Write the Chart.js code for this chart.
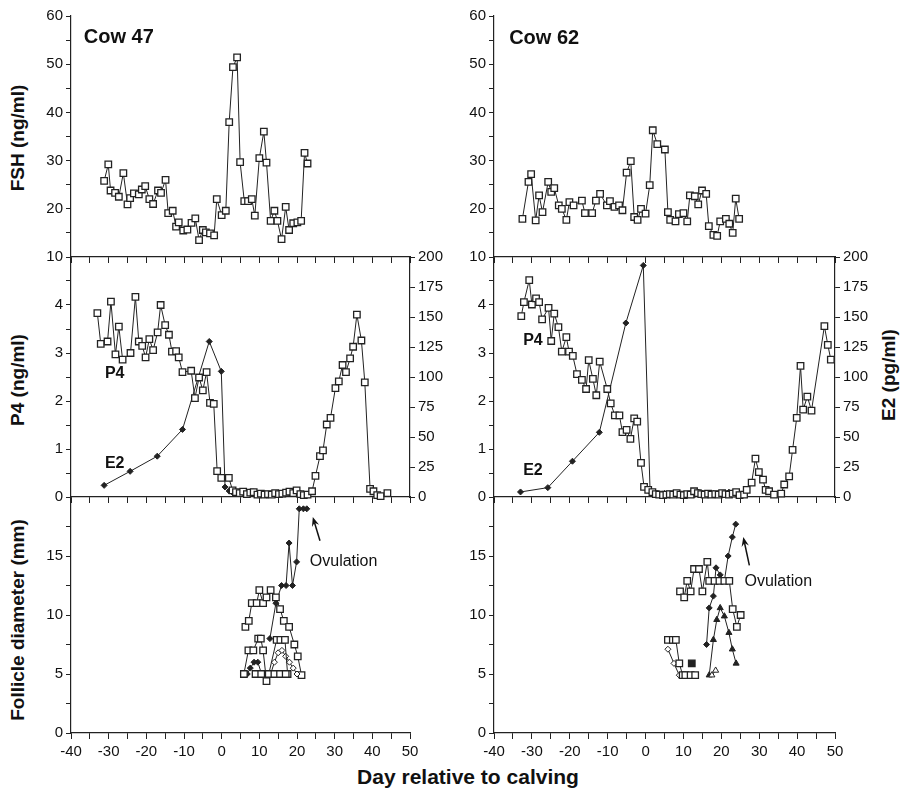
<!DOCTYPE html>
<html>
<head>
<meta charset="utf-8">
<script src="https://cdn.jsdelivr.net/npm/chart.js@4.4.1/dist/chart.umd.min.js"></script>
<style>
body{margin:0;background:#fff;width:902px;height:792px;position:relative;overflow:hidden;font-family:'Liberation Sans',Arial,sans-serif;color:#111}
.p{position:absolute}
.t{position:absolute;font-weight:bold;font-size:19px;white-space:nowrap;transform:translate(-50%,-50%) rotate(-90deg)}
.h{position:absolute;font-weight:bold;font-size:21px;white-space:nowrap;transform:translate(-50%,-50%)}
</style>
</head>
<body>
<div class="t" style="left:18px;top:138px">FSH (ng/ml)</div>
<div class="t" style="left:18px;top:380px">P4 (ng/ml)</div>
<div class="t" style="left:18px;top:620px">Follicle diameter (mm)</div>
<div class="t" style="left:889px;top:375px">E2 (pg/ml)</div>
<div class="h" style="left:468px;top:777px">Day relative to calving</div>
<script>
// FSH, ng/ml
const fshCow47Day = [-31.2,-30.1,-29.5,-28.3,-27.3,-26.1,-25,-24.3,-23.3,-22,-21.2,-20.3,-19.2,-18.2,-16.9,-16.1,-14.9,-14.2,-13,-12.1,-11.4,-10.2,-9.1,-8,-7,-6,-5,-4.2,-3.1,-2,-1.3,0,1.1,2,3,4.1,4.9,6,7,8,8.8,10,11.2,11.9,13,14,14.8,15.9,17,17.9,19,20.1,21.1,22,22.8];
const fshCow47 = [25.8,29.2,23.8,23.3,22.5,27.4,20.9,22.2,23.2,23,24,24.7,22,21,23.8,23.3,26,19.1,19.6,16.3,17.2,15.5,15.7,17.1,18,13.5,15.6,15.1,14.9,14.5,22,18.7,19.6,38,49.4,51.4,29.7,21.6,21.6,22,18.6,30.5,36,29.6,17.5,19.6,17.5,13.7,20.4,15.6,17,17.2,17.5,31.6,29.4];
const fshCow62Day = [-32.5,-30.9,-30.2,-29,-28.1,-27.2,-25.7,-24.9,-24.1,-22.9,-22.1,-20.9,-20.1,-19,-16.8,-16,-14.1,-13.1,-12,-10.2,-9.4,-8.2,-7,-6.1,-5,-3.9,-3,-2.1,-1.2,0,1.1,1.9,3.1,5.1,5.9,6.5,7.9,8.8,10,11,11.7,13,13.9,14.9,16,16.7,17.9,18.9,19.7,21.2,22.1,23,23.8,24.7];
const fshCow62 = [17.9,25.6,27.2,17.6,22.8,19.3,25.6,23.5,24.3,20.7,20,17.7,21.4,20.7,21.7,19.1,19.1,21.7,23.1,20.7,21.6,20.4,20.7,19.7,27.5,29.9,18.3,17.7,20,19,24.9,36.3,33.4,32.3,19.3,17.7,17.4,18.9,19.1,17.4,22.8,22.6,20.9,23.8,23.1,16.4,14.6,14.4,17.4,17.9,16.9,15,22.1,17.9];

// P4 (ng/ml) and E2 (pg/ml)
const p4Cow47Day = [-33,-32.1,-30.3,-29.4,-28.2,-27.3,-26.3,-24.2,-22.9,-22,-21.1,-20.2,-19.2,-18.2,-17,-16.2,-15,-14,-13.2,-12.1,-11.4,-10.4,-8.1,-7.1,-6,-5,-4,-3.1,-2.1,-1.2,-0.1,1.9,2.9,3.8,4.8,5.7,6.7,7.6,8.5,9.5,10.4,11.4,12.3,13.3,14.2,15.2,16.1,17.1,18,19,19.9,20.9,21.8,22.8,24,24.9,26.1,26.9,27.9,28.9,30.2,31.1,32.1,33,34.1,34.9,35.9,37.1,38,39.4,40.3,41.3,42.2,44];
const p4Cow47 = [3.83,3.19,3.24,4.07,2.97,3.55,2.86,3.0,4.17,3.24,3.15,2.91,3.29,3.06,3.43,4.0,3.58,3.38,3.03,3.04,2.91,2.6,2.63,2.06,2.49,2.22,2.6,1.96,1.94,0.54,0.4,0.4,0.14,0.1,0.08,0.11,0.06,0.09,0.1,0.05,0.07,0.05,0.06,0.05,0.08,0.06,0.07,0.09,0.11,0.08,0.14,0.06,0.04,0.05,0.12,0.44,0.85,0.97,1.51,1.65,2.27,2.41,2.75,2.6,2.89,3.13,3.8,3.26,2.39,0.17,0.12,0.04,0.02,0.08];
const e2Cow47Day = [-31.2,-24.3,-17.1,-10.4,-3.3,-0.1,0.9,2,3,4,5,6,7,8,9,10,11,12,13,14,15,16,17,18,19,20,21,22];
const e2Cow47 = [9.7,21.4,34,56.3,129.6,104.7,8.3,5,3.5,4,2.5,3,2,3,2,2.5,2,1.5,2,2.5,2,3,2.5,3,4.5,5.5,3,1.5];
const p4Cow62Day = [-32.8,-32.1,-30.7,-30,-28.9,-28.1,-27.3,-25.6,-24.9,-24.1,-23,-22.1,-20.9,-20.2,-19.2,-18.1,-16.8,-15.7,-15,-13.9,-13,-12.1,-10.1,-9.2,-8.1,-6.9,-6.1,-5,-4,-3,-2.2,-1.2,-0.4,0.7,1.8,2.7,3.6,4.6,5.5,6.4,7.3,8.2,9.2,10.1,11,11.9,12.8,13.8,14.7,15.6,16.5,17.4,18.4,19.3,20.2,21.1,22,23,23.9,24.8,26,26.7,28,29,29.9,31,31.7,32.6,33.9,35.8,36.6,37.9,38.8,39.9,40.9,41.6,42.7,43.8,47.2,48.1,48.9];
const p4Cow62 = [3.77,4.06,4.52,4.01,4.14,4.06,3.7,3.94,3.25,3.82,3.54,3.03,3.33,3.03,2.94,2.56,2.44,2.25,2.85,2.46,2.12,2.82,2.25,1.95,1.7,1.7,1.35,1.4,1.21,1.64,1.57,0.71,0.21,0.15,0.1,0.06,0.05,0.04,0.05,0.06,0.05,0.08,0.05,0.04,0.06,0.05,0.12,0.08,0.06,0.05,0.07,0.05,0.06,0.05,0.08,0.06,0.05,0.07,0.1,0.04,0.05,0.15,0.3,0.8,0.52,0.36,0.15,0.12,0.05,0.07,0.26,0.43,0.98,1.65,2.73,1.82,2.09,1.8,3.56,3.17,2.86];
const e2Cow62Day = [-33,-25.8,-19.3,-12.2,-5.2,-0.6,1.2,2,3,4,5,6,7,8,9,10,11,12,13,14,15,16,17,18,19,20,21,22,23,24];
const e2Cow62 = [4.2,7.8,29.8,53.9,145,193,4.2,4,3,2.5,3,2,2.5,2,3,2,2.5,3,2,4,3,2.5,2,3,2.5,2,3,4,3.5,2];

// follicle diameter (mm), one array per tracked follicle
const fol47aDay = [6.3,7.2,8,9.3,10,11,11.9,13,14.4,15.5,16.5,17.9,19.3,20.2,21.2];
const fol47a = [9,9.5,11,11,12.1,11,11.5,12.1,11.5,10.5,9.5,9,7.5,6.5,4.9];
const fol47bDay = [12.8,14.4,15.9,17.1,17.9,18.8,19.9,20.6,21.7,22.6];
const fol47b = [8,11,12.5,12.5,16.1,12.5,14.5,19,19,19];
const fol47cDay = [5.9,7.1,8.4,9.7,10.4,11,11.9];
const fol47c = [5,7,7,8,8,7,4.4];
const fol47dDay = [6.8,7.6,8.6,9.6,10.6];
const fol47d = [5,5.5,6,6,5];
const fol47eDay = [12.5,14.6,15.6,16.8,17.5];
const fol47e = [5,7.9,7.9,7.9,5];
const fol47fDay = [13,14,15,16,17,18,19,20];
const fol47f = [5,6,6.8,7,6.5,6,5.5,5];
const fol47gDay = [9,10.5,12.5,14,15.5,17];
const fol47g = [5,5,5,5,5,5];

const fol62aDay = [9.1,10.2,11,11.9,12.8,14.1,15,16.3,16.8,18.2,19.5,20.8,22.1,23,24.1,25.1];
const fol62a = [12,11.5,12.9,12,13.9,13.9,12,14.5,12.9,12.9,12.9,12.9,12.9,10.5,9,10];
const fol62bDay = [16.1,16.8,17.9,18.6,19.7,20.8,21.8,22.9,23.8];
const fol62b = [7.5,10.6,11.6,14,13.4,12.9,15,16.6,17.7];
const fol62cDay = [16.8,17.9,18.8,19.7,20.8,22,22.9,23.9];
const fol62c = [4.9,7.9,9.6,10.6,9.9,8.5,7.1,5.9];
const fol62dDay = [5.9,7.2,8,8.9,9.8];
const fol62d = [7.9,7.9,7.9,5.9,4.9];
const fol62eDay = [5.9,7.5,8.9,10.2];
const fol62e = [7.1,5.9,4.9,4.9];
const fol62fDay = [17.5,18.5];
const fol62f = [4.9,5.3];
const fol62gDay = [10.5,11.9,13.1];
const fol62g = [4.9,4.9,4.9];
const fol62hDay = [12.2];
const fol62h = [5.9];

Chart.defaults.font.family = "'Liberation Sans', Arial, sans-serif";
Chart.defaults.font.size = 15;
Chart.defaults.color = '#111';

const ink = '#222';
const colL = [71, 494], colR = [410, 835];
const rowT = [16, 257, 497], rowB = [257, 497, 733];
const yW = 40, padT = 10, xH = [6, 6, 32], rW = [14, 44, 14];

function pts(days, vals) { return days.map((d, i) => ({x: d, y: vals[i]})); }

function sq(days, vals, extra) {
  return Object.assign({data: pts(days, vals), showLine: true, borderColor: ink, borderWidth: 1,
    pointStyle: 'rect', pointRadius: 4.6, pointBackgroundColor: '#fff', pointBorderColor: ink,
    pointBorderWidth: 1.3, clip: false}, extra || {});
}
function dia(days, vals, extra) {
  return Object.assign({data: pts(days, vals), showLine: true, borderColor: ink, borderWidth: 1,
    pointStyle: 'rectRot', pointRadius: 3, pointBackgroundColor: ink, pointBorderColor: ink,
    pointBorderWidth: 1, clip: false}, extra || {});
}
function tri(days, vals, extra) {
  return Object.assign({data: pts(days, vals), showLine: true, borderColor: ink, borderWidth: 1,
    pointStyle: 'triangle', pointRadius: 3.5, pointBackgroundColor: ink, pointBorderColor: ink,
    pointBorderWidth: 1, clip: false}, extra || {});
}

function axisY(r, min, max, step, cb, pos, width) {
  return {type: 'linear', position: pos, min: min, max: max,
    ticks: {stepSize: step, autoSkip: false, padding: 3, callback: cb},
    grid: {drawOnChartArea: false, tickLength: 5, color: ink},
    border: {color: ink, width: 1.2},
    afterFit: s => { s.width = width; s.paddingTop = 0; s.paddingBottom = 0; }};
}

function notesPlugin(notes) {
  return {
    id: 'notes',
    afterDatasetsDraw(chart) {
      const ctx = chart.ctx, sx = chart.scales.x;
      (notes.texts || []).forEach(t => {
        const sy = chart.scales[t.axis || 'y'];
        ctx.save();
        ctx.font = t.font;
        ctx.fillStyle = '#111';
        ctx.textAlign = 'left';
        ctx.textBaseline = 'middle';
        ctx.fillText(t.text, sx.getPixelForValue(t.x), sy.getPixelForValue(t.y));
        ctx.restore();
      });
      (notes.arrows || []).forEach(a => {
        const sy = chart.scales.y;
        const x0 = sx.getPixelForValue(a.from[0]), y0 = sy.getPixelForValue(a.from[1]);
        const x1 = sx.getPixelForValue(a.to[0]), y1 = sy.getPixelForValue(a.to[1]);
        const ang = Math.atan2(y1 - y0, x1 - x0), L = 10;
        ctx.save();
        ctx.strokeStyle = '#111'; ctx.fillStyle = '#111'; ctx.lineWidth = 1.5;
        ctx.beginPath(); ctx.moveTo(x0, y0); ctx.lineTo(x1 - Math.cos(ang) * 6, y1 - Math.sin(ang) * 6); ctx.stroke();
        ctx.beginPath();
        ctx.moveTo(x1, y1);
        ctx.lineTo(x1 - L * Math.cos(ang - 0.38), y1 - L * Math.sin(ang - 0.38));
        ctx.lineTo(x1 - L * 0.6 * Math.cos(ang), y1 - L * 0.6 * Math.sin(ang));
        ctx.lineTo(x1 - L * Math.cos(ang + 0.38), y1 - L * Math.sin(ang + 0.38));
        ctx.closePath(); ctx.fill();
        ctx.restore();
      });
    }
  };
}

function panel(c, r, datasets, yAxes, notes) {
  const div = document.createElement('div');
  div.className = 'p';
  div.style.left = (colL[c] - yW) + 'px';
  div.style.top = (rowT[r] - padT) + 'px';
  div.style.width = (yW + colR[c] - colL[c] + rW[r]) + 'px';
  div.style.height = (padT + rowB[r] - rowT[r] + xH[r]) + 'px';
  const cv = document.createElement('canvas');
  div.appendChild(cv);
  document.body.appendChild(div);
  const scales = Object.assign({
    x: {type: 'linear', min: -40, max: 50,
      ticks: {stepSize: 5, autoSkip: false, display: r === 2, padding: 4, maxRotation: 0,
        callback: v => (v % 10 === 0 ? v : '')},
      grid: {drawOnChartArea: false, tickLength: 6, color: ink},
      border: {color: ink, width: 1.2},
      afterFit: s => { s.height = xH[r]; s.paddingLeft = 0; s.paddingRight = 0; }}
  }, yAxes);
  new Chart(cv, {
    type: 'scatter',
    data: {datasets: datasets},
    options: {
      responsive: true, maintainAspectRatio: false, animation: false,
      layout: {padding: {top: padT, left: 0, bottom: 0, right: r === 1 ? 0 : rW[r]}},
      elements: {line: {tension: 0}},
      plugins: {legend: {display: false}, tooltip: {enabled: false}},
      scales: scales
    },
    plugins: [notesPlugin(notes || {})]
  });
}

const fshAxis = r => ({y: axisY(r, 10, 60, 5, v => (v % 10 === 0 ? v : ''), 'left', yW)});
const midAxes = () => ({
  y: axisY(1, 0, 5, 0.5, v => (Number.isInteger(v) && v < 5 ? v : ''), 'left', yW),
  y2: axisY(1, 0, 200, 25, v => v, 'right', rW[1])
});
const folAxis = () => ({y: axisY(2, 0, 20, 2.5, v => (v % 5 === 0 && v < 20 ? v : ''), 'left', yW)});
const boldNote = '16px "Liberation Sans", Arial, sans-serif';

// Cow 47
panel(0, 0, [sq(fshCow47Day, fshCow47)], fshAxis(0),
  {texts: [{text: 'Cow 47', x: -36.6, y: 55.6, font: 'bold 20px "Liberation Sans", Arial, sans-serif'}]});
panel(0, 1, [sq(p4Cow47Day, p4Cow47), dia(e2Cow47Day, e2Cow47, {yAxisID: 'y2'})], midAxes(),
  {texts: [{text: 'P4', x: -31, y: 2.57, font: 'bold ' + boldNote},
           {text: 'E2', x: -31, y: 0.69, font: 'bold ' + boldNote}]});
panel(0, 2, [
  sq(fol47gDay, fol47g), sq(fol47cDay, fol47c), dia(fol47dDay, fol47d),
  sq(fol47eDay, fol47e), dia(fol47fDay, fol47f, {pointBackgroundColor: '#fff'}),
  sq(fol47aDay, fol47a), dia(fol47bDay, fol47b)
], folAxis(),
  {texts: [{text: 'Ovulation', x: 23.4, y: 14.5, font: boldNote}],
   arrows: [{from: [26.1, 16.3], to: [24.2, 18.3]}]});

// Cow 62
panel(1, 0, [sq(fshCow62Day, fshCow62)], fshAxis(0),
  {texts: [{text: 'Cow 62', x: -36, y: 55.4, font: 'bold 20px "Liberation Sans", Arial, sans-serif'}]});
panel(1, 1, [sq(p4Cow62Day, p4Cow62), dia(e2Cow62Day, e2Cow62, {yAxisID: 'y2'})], midAxes(),
  {texts: [{text: 'P4', x: -32.3, y: 3.25, font: 'bold ' + boldNote},
           {text: 'E2', x: -32.3, y: 0.55, font: 'bold ' + boldNote}]});
panel(1, 2, [
  sq(fol62gDay, fol62g), sq(fol62dDay, fol62d), dia(fol62eDay, fol62e, {pointBackgroundColor: '#fff'}),
  sq(fol62hDay, fol62h, {pointBackgroundColor: ink}),
  tri(fol62fDay, fol62f, {pointBackgroundColor: '#fff'}), tri(fol62cDay, fol62c),
  sq(fol62aDay, fol62a), dia(fol62bDay, fol62b)
], folAxis(),
  {texts: [{text: 'Ovulation', x: 26.1, y: 12.8, font: boldNote}],
   arrows: [{from: [27.4, 14.2], to: [25.8, 16.6]}]});
</script>
</body>
</html>
